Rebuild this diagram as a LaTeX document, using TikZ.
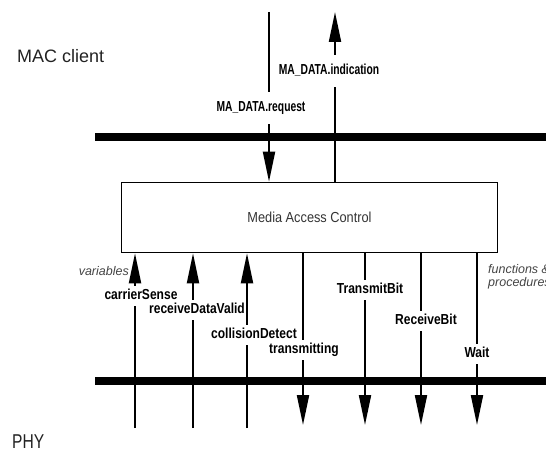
\documentclass[tikz,border=0pt]{standalone}
\usepackage{fontspec}
\setmainfont{Liberation Sans}
\newfontfamily\sigfont[FakeStretch=0.83]{Liberation Sans}
\newfontfamily\primfont[FakeStretch=0.71]{Liberation Sans}
\newfontfamily\boxfont[FakeStretch=0.88]{Liberation Sans}
\newfontfamily\phyfont[FakeStretch=0.78]{Liberation Sans}
\usepackage{tikz}
\usetikzlibrary{arrows.meta}
\usepackage{xcolor}
\definecolor{macdark}{RGB}{34,34,34}
\definecolor{macgray}{RGB}{51,51,51}
\definecolor{macital}{RGB}{68,68,68}
\tikzstyle{bar} = [line width=8pt]
\tikzstyle{sigline} = [line width=2pt,-{Triangle[length=30pt,width=12pt]}]
\tikzstyle{siglabel} = [fill=white,inner xsep=1pt,inner ysep=3pt,text height=10.5pt,text depth=3pt,font=\sigfont\bfseries\fontsize{14.5}{16}\selectfont]
\tikzstyle{primlabel} = [siglabel,inner ysep=9pt,font=\primfont\bfseries\fontsize{14.5}{16}\selectfont]
\tikzstyle{layername} = [inner sep=0pt,color=macdark,font=\fontsize{18}{20}\selectfont]
\tikzstyle{kindlabel} = [inner sep=0pt,align=left,color=macital,font=\itshape\fontsize{12.5}{13}\selectfont]

\begin{document}
\begin{tikzpicture}[x=1pt,y=-1pt]
    \useasboundingbox (0,0) rectangle (546,449);

    % Layer names
    \node[layername, anchor=west] (client) at (17,56) {MAC client};
    \node[layername, anchor=base west, font=\phyfont\fontsize{20}{22}\selectfont] (phy) at (12,448) {PHY};

    % Interface bars
    \coordinate (topL) at (95,137);
    \coordinate (topR) at (546,137);
    \coordinate (botL) at (95,381);
    \coordinate (botR) at (546,381);
    \draw[bar] (topL) -- (topR);
    \draw[bar] (botL) -- (botR);

    % MAC block
    \node[draw, line width=1.6pt, minimum width=376pt, minimum height=70pt, text=macgray,
          font=\boxfont\fontsize{14.5}{16}\selectfont] (mac) at (309.5,217.5) {Media Access Control};

    % Service primitives
    \coordinate (req) at (269,12);
    \coordinate (ind) at (335,12);
    \draw[sigline] (req) -- (req |- mac.north);
    \draw[sigline] (ind |- mac.north) -- (ind);
    \node[primlabel] (reqlbl) at (261,108) {MA\_DATA.request};
    \node[primlabel] (indlbl) at (329,71) {MA\_DATA.indication};

    % Variables
    \coordinate (cs) at (135,428);
    \coordinate (rdv) at (193,428);
    \coordinate (cd) at (247,428);
    \coordinate (tx) at (303,425);
    \draw[sigline] (cs) -- (cs |- mac.south);
    \draw[sigline] (rdv) -- (rdv |- mac.south);
    \draw[sigline] (cd) -- (cd |- mac.south);
    \draw[sigline] (tx |- mac.south) -- (tx);
    \node[siglabel] (cslbl) at (141,296) {carrierSense};
    \node[siglabel] (rdvlbl) at (197,310) {receiveDataValid};
    \node[siglabel] (cdlbl) at (254,335) {collisionDetect};
    \node[siglabel] (txlbl) at (304,350) {transmitting};

    % Functions and procedures
    \coordinate (tb) at (365,425);
    \coordinate (rb) at (421,425);
    \coordinate (wt) at (477,425);
    \draw[sigline] (tb |- mac.south) -- (tb);
    \draw[sigline] (rb |- mac.south) -- (rb);
    \draw[sigline] (wt |- mac.south) -- (wt);
    \node[siglabel] (tblbl) at (370,290) {TransmitBit};
    \node[siglabel] (rblbl) at (426,321) {ReceiveBit};
    \node[siglabel] (wtlbl) at (477,354) {Wait};

    % Group labels
    \node[kindlabel, anchor=east] (vars) at (129,271) {variables};
    \node[kindlabel, anchor=north west] (funcs) at (488,264) {functions \&\\procedures};
\end{tikzpicture}
\end{document}
